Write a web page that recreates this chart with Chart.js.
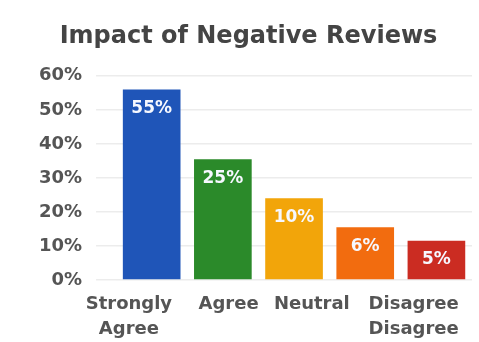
<!DOCTYPE html>
<html>
<head>
<meta charset="utf-8">
<script src="https://cdn.jsdelivr.net/npm/chart.js@4/dist/chart.umd.min.js"></script>
<style>
html,body{margin:0;padding:0;background:#fff;}
#wrap{width:479px;height:342px;position:relative;}
</style>
</head>
<body>
<div id="wrap"><canvas id="c" width="479" height="342"></canvas></div>
<script>
const categories = ["Strongly Agree", "Agree", "Neutral", "Disagree", "Disagree"];
const values = [56, 35.5, 24, 15.5, 11.5];
const barLabels = ["55%", "25%", "10%", "6%", "5%"];
const barColors = ["#1f55b8", "#2b8a2a", "#f2a50a", "#f26c0f", "#cb2c22"];
const tickLabels = [["Strongly", "Agree"], ["Agree"], ["Neutral"], ["Disagree", "Disagree"], []];
const yTicks = [0, 10, 20, 30, 40, 50, 60];

const FONT = "'DejaVu Sans', sans-serif";
const XFS = 18, XLH = 25, XPAD = 12;
// horizontal shift of each category label, in category widths
const labelShift = [-0.32, 0.08, 0.25, 0.68, 0];

const labelPlugin = {
  id: 'labels',
  afterDatasetsDraw(chart) {
    const ctx = chart.ctx;
    const meta = chart.getDatasetMeta(0);
    ctx.save();
    ctx.fillStyle = '#f6f8ff';
    ctx.font = "bold 17px " + FONT;
    ctx.textAlign = 'center';
    ctx.textBaseline = 'middle';
    meta.data.forEach((bar, i) => {
      ctx.fillText(barLabels[i], bar.x, bar.y + 19);
    });
    const xs = chart.scales.x;
    const step = xs.getPixelForTick(1) - xs.getPixelForTick(0);
    ctx.fillStyle = '#555555';
    ctx.font = "bold " + XFS + "px " + FONT;
    tickLabels.forEach((lines, i) => {
      const x = xs.getPixelForTick(i) + labelShift[i] * step;
      lines.forEach((t, j) => {
        ctx.fillText(t, x, chart.chartArea.bottom + XPAD + XLH / 2 + j * XLH);
      });
    });
    ctx.restore();
  }
};

new Chart(document.getElementById('c'), {
  type: 'bar',
  data: {
    labels: categories,
    datasets: [{
      data: values,
      backgroundColor: barColors,
      borderWidth: 0,
      barPercentage: 0.9,
      categoryPercentage: 0.9
    }]
  },
  options: {
    responsive: false,
    animation: false,
    layout: { padding: { left: 25, right: 7, top: 8, bottom: 62 } },
    plugins: {
      legend: { display: false },
      tooltip: { enabled: false },
      title: {
        display: true,
        text: 'Impact of Negative Reviews',
        color: '#444444',
        font: { family: FONT, size: 24, weight: 'bold' },
        padding: { top: 14, bottom: 25 }
      }
    },
    scales: {
      y: {
        min: 0, max: 60,
        afterBuildTicks(scale) { scale.ticks = yTicks.map(v => ({ value: v })); },
        ticks: {
          callback: v => v + '%',
          color: '#555555',
          font: { family: FONT, size: 18, weight: 'bold' },
          padding: 14
        },
        grid: { color: '#ececec', lineWidth: 1.5, tickLength: 20, drawTicks: true },
        border: { display: false }
      },
      x: {
        ticks: { display: false },
        grid: { display: false, drawTicks: false },
        border: { display: false }
      }
    }
  },
  plugins: [labelPlugin]
});
</script>
</body>
</html>
